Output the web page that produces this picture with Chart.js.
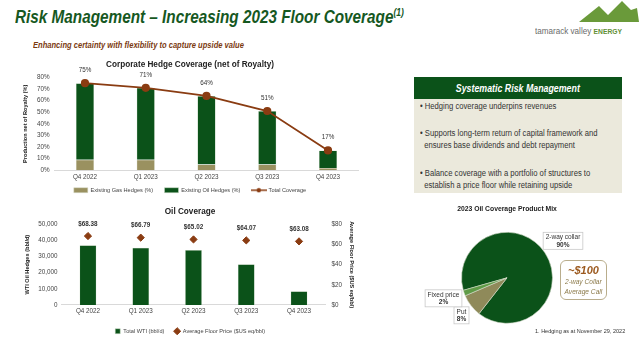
<!DOCTYPE html>
<html>
<head>
<meta charset="utf-8">
<script src="https://cdn.jsdelivr.net/npm/chart.js@4.4.0/dist/chart.umd.min.js"></script>
<style>
    body { margin: 0; width: 640px; height: 342px; background: #fff; position: relative; overflow: hidden;
           font-family: 'Liberation Sans', Arial, sans-serif; }
    .abs { position: absolute; }
    .narrow { transform-origin: 0 0; }
    #slideTitle { left: 15px; top: 7px; font-size: 18px; font-weight: bold; font-style: italic; color: #16581f;
                  white-space: nowrap; transform: scaleX(0.85); }
    #slideTitle sup { font-size: 10px; }
    #slideSub { left: 33px; top: 40px; font-size: 9px; font-weight: bold; font-style: italic; color: #7b3a10;
                white-space: nowrap; transform: scaleX(0.84); }
    #logoText { left: 535px; top: 26px; font-size: 9px; color: #6b6b6b; white-space: nowrap; transform: scaleX(0.9); }
    #logoText b { color: #5f8f34; font-size: 7.5px; }
    #riskBox { left: 414px; top: 77px; width: 208px; height: 116px; background: #ebe9dc; }
    #riskHead { left: 0; top: 0; width: 208px; height: 22px; background: #0b5219; color: #fff; font-size: 10.5px;
                font-weight: bold; font-style: italic; text-align: center; line-height: 22px; }
    #riskHead span { display: inline-block; transform: scaleX(0.84); }
    .bullet { left: 6px; font-size: 8.5px; color: #333; line-height: 12px; white-space: nowrap; transform: scaleX(0.9); }
    #callBox { left: 560px; top: 260px; width: 47px; height: 40px; border: 1px solid #b9ad8c; border-radius: 6px;
               text-align: center; font-style: italic; color: #8c7a4a; font-size: 7.5px; line-height: 10px;
               box-sizing: border-box; padding-top: 3px; white-space: nowrap; }
    #callBox b { color: #9c5a1f; font-size: 11px; line-height: 13px; display: block; }
    #callBox span { display: inline-block; transform: scaleX(0.88); }
    #footnote { left: 535px; top: 328px; font-size: 6px; color: #333; white-space: nowrap; transform: scaleX(0.92); }
</style>
</head>
<body>
<div id="slideTitle" class="abs narrow">Risk Management – Increasing 2023 Floor Coverage<sup>(1)</sup></div>
<div id="slideSub" class="abs narrow">Enhancing certainty with flexibility to capture upside value</div>

<svg class="abs" style="left:575px;top:0" width="64" height="23" viewBox="0 0 64 23">
    <polygon points="4,22 24,6 33,15 47,1 56,10 62,8 64,22" fill="#6a9a3a"/>
</svg>
<div id="logoText" class="abs narrow">tamarack valley <b>ENERGY</b></div>

<canvas id="hedgeChart" class="abs" style="left:0;top:55px" width="380" height="148"></canvas>
<canvas id="oilChart" class="abs" style="left:0;top:197px" width="380" height="147"></canvas>
<canvas id="mixChart" class="abs" style="left:400px;top:200px" width="214" height="142"></canvas>

<div id="riskBox" class="abs">
    <div id="riskHead" class="abs"><span>Systematic Risk Management</span></div>
    <div class="abs bullet narrow" style="top:23px">• Hedging coverage underpins revenues</div>
    <div class="abs bullet narrow" style="top:50px">• Supports long-term return of capital framework and<br>&nbsp;&nbsp;ensures base dividends and debt repayment</div>
    <div class="abs bullet narrow" style="top:90px">• Balance coverage with a portfolio of structures to<br>&nbsp;&nbsp;establish a price floor while retaining upside</div>
</div>

<div id="callBox" class="abs"><b>~$100</b><span>2-way Collar<br>Average Call</span></div>
<div id="footnote" class="abs narrow">1. Hedging as at November 29, 2022</div>

<script>
// Chart data
const quarters = ['Q4 2022', 'Q1 2023', 'Q2 2023', 'Q3 2023', 'Q4 2023'];

// Corporate hedge coverage (% of production net of royalty)
const gasHedges = [9, 9, 5, 5, 2];
const oilHedges = [66, 62, 59, 46, 15];
const totalCoverage = [75, 71, 64, 51, 17];

// Oil coverage
const totalWti = [37000, 35500, 34000, 25200, 8500];
const avgFloorPrice = [68.38, 66.79, 65.02, 64.07, 63.08];

// 2023 product mix
const mixLabels = ['2-way collar', 'Put', 'Fixed price'];
const mixShares = [90, 8, 2];

const FONT = "'Liberation Sans', Arial, sans-serif";
const GREEN = '#0b5219';
const KHAKI = '#9a9160';
const BROWN = '#8a3c12';
const TICK_FONT = { size: 6.3 };
const LEGEND_FONT = { size: 5.6 };
const AXIS_TITLE_FONT = { size: 5.6, weight: 'bold' };

Chart.defaults.font.family = FONT;
Chart.defaults.color = '#444';
Chart.defaults.animation = false;

// Labels drawn above the points of one dataset
const pointLabels = {
    id: 'pointLabels',
    afterDatasetsDraw(chart, args, opts) {
        const meta = chart.getDatasetMeta(opts.datasetIndex);
        const values = chart.data.datasets[opts.datasetIndex].data;
        const ctx = chart.ctx;
        ctx.save();
        ctx.font = (opts.bold ? 'bold ' : '') + '6.3px ' + FONT;
        ctx.fillStyle = '#333';
        ctx.textAlign = 'center';
        ctx.textBaseline = 'middle';
        meta.data.forEach((el, i) => {
            const txt = opts.prefix + values[i].toFixed(opts.decimals) + opts.suffix;
            ctx.fillText(txt, el.x, el.y - opts.offset);
        });
        ctx.restore();
    }
};

// Small icon of a line with a dot, for the legend
function lineMarkerIcon() {
    const c = document.createElement('canvas');
    c.width = 16; c.height = 6;
    const g = c.getContext('2d');
    g.strokeStyle = BROWN; g.lineWidth = 1.5;
    g.beginPath(); g.moveTo(0, 3); g.lineTo(16, 3); g.stroke();
    g.fillStyle = BROWN;
    g.beginPath(); g.arc(8, 3, 2.2, 0, Math.PI * 2); g.fill();
    return c;
}

function initHedgeChart() {
    const icon = lineMarkerIcon();
    new Chart(document.getElementById('hedgeChart'), {
        type: 'bar',
        data: {
            labels: quarters,
            datasets: [{
                label: 'Existing Gas Hedges (%)',
                data: gasHedges,
                backgroundColor: KHAKI,
                borderColor: '#d8dccb',
                borderWidth: 0.5,
                pointStyle: 'rect'
            }, {
                label: 'Existing Oil Hedges (%)',
                data: oilHedges,
                backgroundColor: GREEN,
                borderColor: '#cfdcc8',
                borderWidth: 0.5,
                pointStyle: 'rect'
            }, {
                type: 'line',
                label: 'Total Coverage',
                data: totalCoverage,
                borderColor: BROWN,
                backgroundColor: BROWN,
                borderWidth: 1.8,
                pointRadius: 3.2,
                pointBackgroundColor: BROWN,
                stack: 'line',
                order: -1
            }]
        },
        options: {
            responsive: false,
            categoryPercentage: 1,
            barPercentage: 0.3,
            layout: { padding: { left: 21.6, right: 21.6, bottom: 0 } },
            plugins: {
                title: {
                    display: true,
                    text: 'Corporate Hedge Coverage (net of Royalty)',
                    color: '#222',
                    font: { size: 8.2, weight: 'bold' },
                    padding: { top: 5, bottom: 7.5 }
                },
                legend: {
                    position: 'bottom',
                    labels: {
                        usePointStyle: true,
                        pointStyleWidth: 14,
                        boxHeight: 5,
                        padding: 5.2,
                        color: '#444',
                        font: LEGEND_FONT,
                        sort: (a, b) => a.datasetIndex - b.datasetIndex,
                        generateLabels(chart) {
                            const items = Chart.defaults.plugins.legend.labels.generateLabels(chart);
                            items.forEach(it => {
                                if (it.datasetIndex === 2) it.pointStyle = icon;
                                else it.text += '    ';
                            });
                            return items;
                        }
                    }
                },
                tooltip: { enabled: false },
                pointLabels: { datasetIndex: 2, prefix: '', suffix: '%', decimals: 0, offset: 13, bold: false }
            },
            scales: {
                x: {
                    stacked: true,
                    grid: { display: false, drawTicks: false },
                    border: { color: '#d9d9d9' },
                    ticks: { font: TICK_FONT, color: '#444', padding: 3 },
                    afterFit(axis) { axis.height = 12; }
                },
                y: {
                    stacked: true,
                    min: 0,
                    max: 80,
                    grid: { display: false, drawTicks: false },
                    border: { display: false },
                    ticks: { stepSize: 10, font: TICK_FONT, color: '#444', padding: 5, callback: v => v + '%' },
                    title: {
                        display: true,
                        text: 'Production net of Royalty (%)',
                        color: '#222',
                        font: AXIS_TITLE_FONT,
                        padding: { top: 0, bottom: 0 }
                    },
                    afterFit(axis) { axis.width = 33; }
                }
            }
        },
        plugins: [pointLabels]
    });
}

function initOilChart() {
    new Chart(document.getElementById('oilChart'), {
        type: 'bar',
        data: {
            labels: quarters,
            datasets: [{
                label: 'Total WTI (bbl/d)',
                data: totalWti,
                backgroundColor: GREEN,
                borderColor: '#cfdcc8',
                borderWidth: 0.5,
                pointStyle: 'rect',
                yAxisID: 'y'
            }, {
                type: 'line',
                label: 'Average Floor Price ($US eq/bbl)',
                data: avgFloorPrice,
                showLine: false,
                pointStyle: 'rectRot',
                pointRadius: 3.6,
                backgroundColor: BROWN,
                borderColor: BROWN,
                yAxisID: 'y1',
                order: -1
            }]
        },
        options: {
            responsive: false,
            categoryPercentage: 1,
            barPercentage: 0.32,
            layout: { padding: { left: 19.6, right: 19.6, bottom: 0 } },
            plugins: {
                title: {
                    display: true,
                    text: 'Oil Coverage',
                    color: '#222',
                    font: { size: 8.2, weight: 'bold' },
                    padding: { top: 10, bottom: 7.5 }
                },
                legend: {
                    position: 'bottom',
                    labels: {
                        usePointStyle: true,
                        boxHeight: 5,
                        padding: 10,
                        color: '#444',
                        font: LEGEND_FONT,
                        sort: (a, b) => a.datasetIndex - b.datasetIndex
                    }
                },
                tooltip: { enabled: false },
                pointLabels: { datasetIndex: 1, prefix: '$', suffix: '', decimals: 2, offset: 12, bold: true }
            },
            scales: {
                x: {
                    grid: { display: false, drawTicks: false },
                    border: { color: '#d9d9d9' },
                    ticks: { font: TICK_FONT, color: '#444', padding: 3 },
                    afterFit(axis) { axis.height = 13.5; }
                },
                y: {
                    min: 0,
                    max: 50000,
                    grid: { display: false, drawTicks: false },
                    border: { display: false },
                    ticks: { stepSize: 10000, font: TICK_FONT, color: '#444', padding: 4,
                             callback: v => v.toLocaleString('en-US') },
                    title: {
                        display: true,
                        text: 'WTI Oil Hedges (bbl/d)',
                        color: '#222',
                        font: AXIS_TITLE_FONT,
                        padding: { top: 4, bottom: 0 }
                    },
                    afterFit(axis) { axis.width = 42; }
                },
                y1: {
                    position: 'right',
                    min: 0,
                    max: 80,
                    grid: { display: false, drawTicks: false },
                    border: { display: false },
                    ticks: { stepSize: 10, font: TICK_FONT, color: '#444', padding: 6, callback: v => '$' + v },
                    title: {
                        display: true,
                        text: 'Average Floor Price ($US eq/bbl)',
                        color: '#222',
                        font: AXIS_TITLE_FONT,
                        padding: { top: 5, bottom: 0 }
                    },
                    afterFit(axis) { axis.width = 35; }
                }
            }
        },
        plugins: [pointLabels]
    });
}

// Boxed labels around the pie
const mixCallouts = {
    id: 'mixCallouts',
    afterDatasetsDraw(chart, args, opts) {
        const arc = chart.getDatasetMeta(0).data[0];
        const ctx = chart.ctx;
        ctx.save();
        ctx.textAlign = 'center';
        ctx.textBaseline = 'middle';
        mixLabels.forEach((label, i) => {
            const [dx, dy] = opts.offsets[i];
            const x = arc.x + dx, y = arc.y + dy;
            ctx.font = '6.5px ' + FONT;
            const w = Math.max(ctx.measureText(label).width, 10) + 5;
            const h = 17;
            ctx.fillStyle = '#fff';
            ctx.strokeStyle = '#c8c8c8';
            ctx.lineWidth = 0.8;
            ctx.fillRect(x - w / 2, y - h / 2, w, h);
            ctx.strokeRect(x - w / 2, y - h / 2, w, h);
            ctx.fillStyle = '#333';
            ctx.fillText(label, x, y - 3.5);
            ctx.font = 'bold 6.5px ' + FONT;
            ctx.fillText(mixShares[i] + '%', x, y + 4);
        });
        ctx.restore();
    }
};

function initMixChart() {
    new Chart(document.getElementById('mixChart'), {
        type: 'pie',
        data: {
            labels: mixLabels,
            datasets: [{
                data: mixShares,
                backgroundColor: [GREEN, '#8f8a5a', '#5e9b46'],
                borderColor: '#d5dccb',
                borderWidth: 0.6,
                radius: 45.5
            }]
        },
        options: {
            responsive: false,
            rotation: -106,
            layout: { padding: { bottom: 6 } },
            plugins: {
                title: {
                    display: true,
                    text: '2023 Oil Coverage Product Mix',
                    color: '#222',
                    font: { size: 6.8, weight: 'bold' },
                    padding: { top: 5.5, bottom: 6 }
                },
                legend: { display: false },
                tooltip: { enabled: false },
                mixCallouts: { offsets: [[56, -37], [-45.5, 37.5], [-63.5, 20.5]] }
            }
        },
        plugins: [mixCallouts]
    });
}

initHedgeChart();
initOilChart();
initMixChart();
</script>
</body>
</html>
